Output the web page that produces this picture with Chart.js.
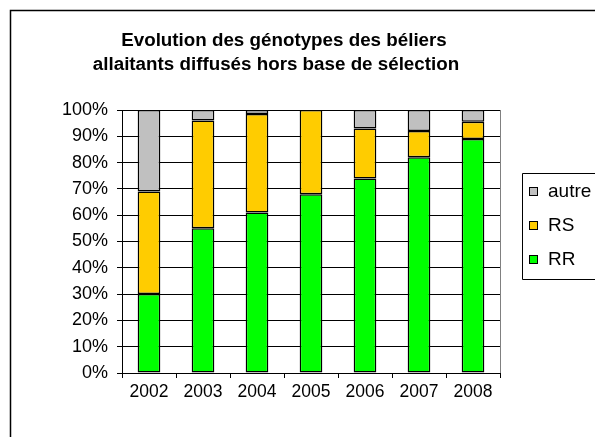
<!DOCTYPE html>
<html>
<head>
<meta charset="utf-8">
<script src="https://cdn.jsdelivr.net/npm/chart.js@4/dist/chart.umd.min.js"></script>
<style>
  html, body { margin: 0; padding: 0; background: #fff; overflow: hidden; }
  #wrap { width: 595px; height: 437px; }
</style>
</head>
<body>
<div id="wrap"><canvas id="chart" width="595" height="437"></canvas></div>
<script>
const years = ['2002', '2003', '2004', '2005', '2006', '2007', '2008'];
const rr = [30, 55, 61, 68, 74, 82, 89];
const rs = [39, 41, 37.5, 32, 19, 10, 6.5];
const autre = [31, 4, 1.5, 0, 7, 8, 4.5];
const titleLines = ['Evolution des génotypes des béliers', 'allaitants diffusés hors base de sélection'];

const FONT = 'Liberation Sans, Arial, sans-serif';

// frame, title, plot border and boxed legend (box runs off the right edge)
const decor = {
    id: 'decor',
    beforeDraw(chart) {
        const c = chart.ctx;
        c.save();
        c.fillStyle = '#fff';
        c.fillRect(0, 0, chart.width, chart.height);
        c.restore();
    },
    afterDraw(chart) {
        const c = chart.ctx;
        const a = chart.chartArea;
        c.save();
        // outer frame, only top and left are inside the picture
        c.strokeStyle = '#000';
        c.lineWidth = 1.5;
        c.beginPath();
        c.moveTo(10.5, chart.height);
        c.lineTo(10.5, 10.5);
        c.lineTo(chart.width, 10.5);
        c.stroke();
        // right side of plot area
        c.strokeStyle = '#808080';
        c.lineWidth = 1;
        c.beginPath();
        c.moveTo(Math.round(a.right) + 0.5, a.top);
        c.lineTo(Math.round(a.right) + 0.5, a.bottom);
        c.stroke();
        // title
        c.fillStyle = '#000';
        c.font = 'bold 18.8px ' + FONT;
        c.textAlign = 'center';
        c.textBaseline = 'middle';
        c.fillText(titleLines[0], 284, 41);
        c.fillText(titleLines[1], 276, 65);
        // legend
        c.strokeStyle = '#000';
        c.lineWidth = 1;
        c.beginPath();
        c.moveTo(chart.width, 173.5);
        c.lineTo(522.5, 173.5);
        c.lineTo(522.5, 279.5);
        c.lineTo(chart.width, 279.5);
        c.stroke();
        c.font = '19px ' + FONT;
        c.textAlign = 'left';
        const ds = chart.data.datasets.slice().reverse();
        ds.forEach((d, i) => {
            const y = 192 + i * 34;
            c.fillStyle = d.backgroundColor;
            c.fillRect(529.5, y - 4.5, 8, 8);
            c.strokeRect(529.5, y - 4.5, 8, 8);
            c.fillStyle = '#000';
            c.fillText(d.label, 548, y);
        });
        c.restore();
    }
};

new Chart(document.getElementById('chart'), {
    type: 'bar',
    data: {
        labels: years,
        datasets: [
            { label: 'RR', data: rr, backgroundColor: '#00FF00' },
            { label: 'RS', data: rs, backgroundColor: '#FFCC00' },
            { label: 'autre', data: autre, backgroundColor: '#C0C0C0' }
        ].map(d => Object.assign(d, {
            borderColor: '#000',
            borderWidth: 1.5,
            borderSkipped: false,
            categoryPercentage: 1,
            barPercentage: 0.42
        }))
    },
    options: {
        responsive: false,
        animation: false,
        layout: { padding: { left: 10, top: 110, right: 95, bottom: 0 } },
        plugins: {
            legend: { display: false },
            title: { display: false },
            tooltip: { enabled: false }
        },
        scales: {
            x: {
                stacked: true,
                grid: { offset: true, drawOnChartArea: false, drawTicks: true, tickLength: 5, color: '#000' },
                border: { color: '#000', width: 1 },
                ticks: { color: '#000', font: { family: FONT, size: 17.5 }, padding: 4, maxRotation: 0 },
                afterFit(s) { s.height = 64; }
            },
            y: {
                stacked: true,
                min: 0,
                max: 100,
                grid: { color: '#000', lineWidth: 1, tickLength: 5 },
                border: { color: '#000', width: 1 },
                ticks: {
                    stepSize: 10,
                    color: '#000',
                    font: { family: FONT, size: 18 },
                    padding: 9,
                    callback: v => v + '%'
                },
                afterFit(s) { s.width = 112; }
            }
        }
    },
    plugins: [decor]
});
</script>
</body>
</html>
